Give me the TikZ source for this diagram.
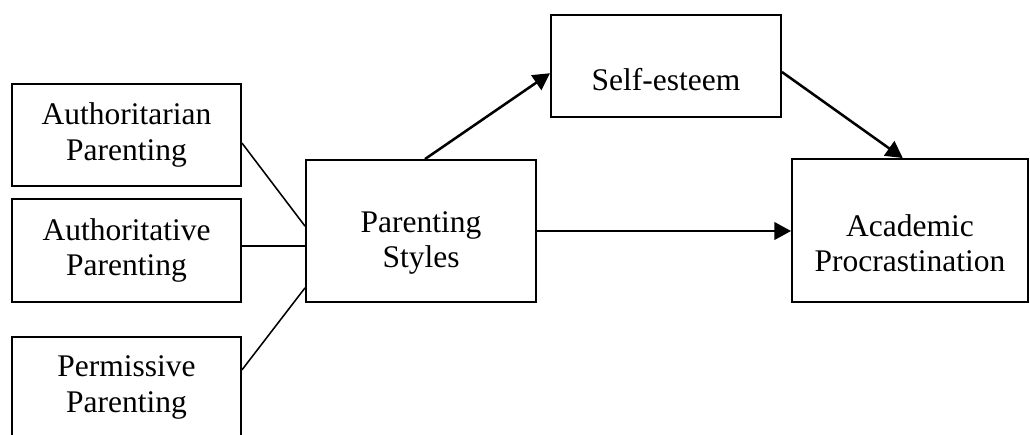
\documentclass[tikz,border=0pt]{standalone}
\usepackage{fontspec}
\setmainfont{Liberation Serif}
\usetikzlibrary{arrows.meta}
\tikzset{
  box/.style={draw, line width=1.3pt, minimum width=5.75cm, align=center, inner sep=0pt},
  lowtxt/.style={yshift=-#1, align=center},
  arr/.style={-{Triangle[length=0.42cm,width=0.44cm]}, line width=1.8pt},
  lnk/.style={line width=1.1pt}
}

\begin{document}
\begin{tikzpicture}[x=0.025cm, y=-0.025cm, font=\fontsize{22.4}{25}\selectfont]
    \clip (0,0) rectangle (1030,434);
    \node[box, minimum width=5.725cm, minimum height=2.55cm] at (126.5,135) (tarian) {Authoritarian\\Parenting};
    \node[box, minimum width=5.725cm, minimum height=2.575cm] at (126.5,250.5) (tative) {Authoritative\\Parenting};
    \node[box, minimum width=5.725cm, minimum height=2.525cm] at (126.5,387.5) (perm) {Permissive\\Parenting};
    \node[box, minimum height=3.55cm, label={[lowtxt=0.3cm]center:{Parenting\\Styles}}] at (421,231) (styles) {};
    \node[box, minimum height=2.55cm, label={[lowtxt=0.35cm]center:{Self-esteem}}] at (666,66) (self) {};
    \node[box, minimum width=5.9cm, minimum height=3.575cm, label={[lowtxt=0.31cm]center:{Academic\\Procrastination}}] at (910,230.5) (acad) {};
    % parenting types into styles
    \draw[lnk] ([yshift=-0.2cm]tarian.east) -- ([yshift=0.12cm]styles.west);
    \draw[lnk] ([yshift=0.11cm]tative.east) coordinate (t) -- (t -| styles.west);
    \draw[lnk] ([yshift=0.44cm]perm.east) -- ([yshift=-1.42cm]styles.west);
    % paths
    \draw[arr] ([xshift=0.1cm]styles.north) -- ([yshift=-0.18cm]self.west);
    \draw[arr] ([yshift=-0.15cm]self.east) -- ([xshift=-0.18cm]acad.north);
    \draw[arr] (styles.east) -- (styles.east -| acad.west);
\end{tikzpicture}
\end{document}
